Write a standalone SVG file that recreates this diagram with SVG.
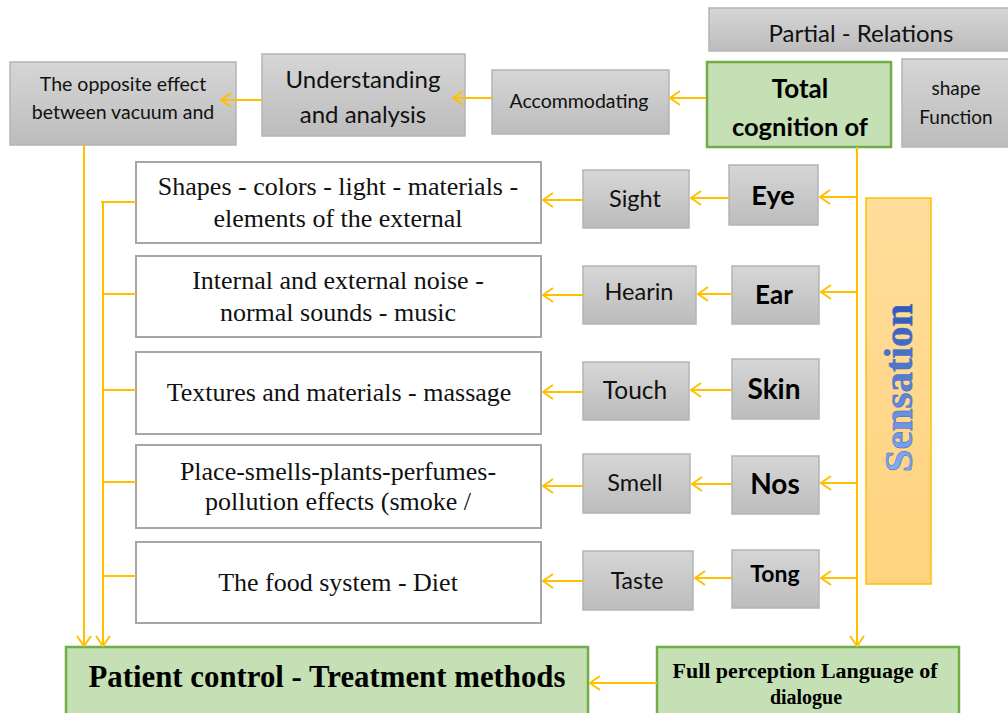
<svg xmlns="http://www.w3.org/2000/svg" width="1008" height="713" viewBox="0 0 1008 713">
<defs>
<linearGradient id="g" x1="0" y1="0" x2="0" y2="1"><stop offset="0" stop-color="#d6d6d6"/><stop offset="1" stop-color="#bcbcbc"/></linearGradient>
<linearGradient id="o" x1="0" y1="0" x2="0" y2="1"><stop offset="0" stop-color="#ffdd9a"/><stop offset="1" stop-color="#ffd37f"/></linearGradient>
<linearGradient id="b" x1="0" y1="0" x2="1" y2="0"><stop offset="0" stop-color="#86adf2"/><stop offset="1" stop-color="#2f58b8"/></linearGradient>
<marker id="a" viewBox="0 0 12 16" refX="11" refY="8" markerWidth="12" markerHeight="16" orient="auto" markerUnits="userSpaceOnUse"><path d="M1,1 L11,8 L1,15" fill="none" stroke="#ffc000" stroke-width="2"/></marker>
</defs>
<style>
.gb{fill:url(#g);stroke:#b4b4b4;stroke-width:1.5}
.wb{fill:#fff;stroke:#a6a6a6;stroke-width:2}
.gr{fill:#c5e0b4;stroke:#70ad47;stroke-width:2.5}
.c{fill:none;stroke:#ffc000;stroke-width:2}
.ca{fill:none;stroke:#ffc000;stroke-width:2;marker-end:url(#a)}
.s{font-family:Lato,"Open Sans",sans-serif;fill:#111;text-anchor:middle}
.sb{font-family:Lato,"Open Sans",sans-serif;fill:#000;text-anchor:middle;font-weight:bold}
.t{font-family:"Liberation Serif",serif;fill:#111;text-anchor:middle;font-size:26px}
.tb{font-family:"Liberation Serif",serif;fill:#000;text-anchor:middle;font-weight:bold}
</style>
<g id="opposite"><rect class="gb" x="10" y="62" width="226" height="83"/><text class="s" font-size="19.5" x="123" y="91">The opposite effect</text><text class="s" font-size="19.5" x="123" y="119">between vacuum and</text></g>
<g id="understanding"><rect class="gb" x="262" y="54" width="203" height="82"/><text class="s" font-size="24" x="363" y="88">Understanding</text><text class="s" font-size="24" x="363" y="123">and analysis</text></g>
<g id="accommodating"><rect class="gb" x="492" y="70" width="177" height="64"/><text class="s" font-size="19.5" x="579" y="108">Accommodating</text></g>
<g id="partial"><rect class="gb" x="709" y="8" width="305" height="43"/><text class="s" font-size="24" x="861" y="42">Partial - Relations</text></g>
<g id="total"><rect class="gr" x="707" y="62" width="184" height="85"/><text class="sb" font-size="26" x="800" y="98">Total</text><text class="sb" font-size="25.5" x="800" y="136">cognition of</text></g>
<g id="shape"><rect class="gb" x="902" y="59" width="112" height="88"/><text class="s" font-size="19" x="956" y="95">shape</text><text class="s" font-size="19" x="956" y="124">Function</text></g>
<g id="box1"><rect class="wb" x="136" y="162" width="405" height="81"/><text class="t" x="338" y="195">Shapes - colors - light - materials -</text><text class="t" x="338" y="227">elements of the external</text></g>
<g id="box2"><rect class="wb" x="136" y="256" width="405" height="81"/><text class="t" x="338" y="289">Internal and external noise -</text><text class="t" x="338" y="321">normal sounds - music</text></g>
<g id="box3"><rect class="wb" x="136" y="352" width="405" height="82"/><text class="t" x="339" y="401">Textures and materials  - massage</text></g>
<g id="box4"><rect class="wb" x="136" y="445" width="405" height="83"/><text class="t" x="338" y="480">Place-smells-plants-perfumes-</text><text class="t" x="338" y="510">pollution effects (smoke /</text></g>
<g id="box5"><rect class="wb" x="136" y="542" width="405" height="81"/><text class="t" x="338" y="591">The food system - Diet</text></g>
<g id="sight"><rect class="gb" x="583" y="170" width="106" height="58"/><text class="s" font-size="23.5" x="635" y="207">Sight</text></g>
<g id="hearing"><rect class="gb" x="583" y="266" width="113" height="58"/><text class="s" font-size="23.5" x="639" y="300">Hearin</text></g>
<g id="touch"><rect class="gb" x="583" y="362" width="106" height="58"/><text class="s" font-size="24.5" x="635" y="399">Touch</text></g>
<g id="smell"><rect class="gb" x="583" y="454" width="107" height="59"/><text class="s" font-size="23.5" x="635" y="491">Smell</text></g>
<g id="taste"><rect class="gb" x="583" y="551" width="110" height="59"/><text class="s" font-size="23" x="637" y="589">Taste</text></g>
<g id="eye"><rect class="gb" x="729" y="165" width="89" height="60"/><text class="sb" font-size="27" x="773" y="205">Eye</text></g>
<g id="ear"><rect class="gb" x="732" y="266" width="87" height="58"/><text class="sb" font-size="26" x="774" y="304">Ear</text></g>
<g id="skin"><rect class="gb" x="732" y="359" width="87" height="60"/><text class="sb" font-size="28" x="774" y="399">Skin</text></g>
<g id="nose"><rect class="gb" x="732" y="456" width="87" height="58"/><text class="sb" font-size="28" x="775" y="494">Nos</text></g>
<g id="tongue"><rect class="gb" x="732" y="550" width="87" height="58"/><text class="sb" font-size="23" x="775" y="582">Tong</text></g>
<g id="sensation"><rect x="866" y="198" width="65" height="386" fill="url(#o)" stroke="#ffc000" stroke-width="1.5"/><text transform="translate(912,388) rotate(-90)" font-family="'Liberation Serif',serif" font-weight="bold" font-size="41" text-anchor="middle" fill="url(#b)" stroke="#3a66c4" stroke-width="0.5">Sensation</text></g>
<g id="patient"><rect class="gr" x="66" y="647" width="522" height="70"/><text class="tb" font-size="31" x="327" y="687" textLength="477" lengthAdjust="spacingAndGlyphs">Patient control - Treatment methods</text></g>
<g id="full"><rect class="gr" x="657" y="647" width="302" height="70"/><text class="tb" font-size="20" x="805" y="678" textLength="265" lengthAdjust="spacingAndGlyphs">Full perception Language of</text><text class="tb" font-size="20" x="806" y="704">dialogue</text></g>
<g id="connectors">
<path class="ca" d="M706,98 L670,98"/>
<path class="ca" d="M492,98 L453,98"/>
<path class="ca" d="M262,100 L221,100"/>
<path class="ca" d="M84,145 L84,646"/>
<path class="ca" d="M103,202 L103,646"/>
<path class="c" d="M101,202 L136,202 M103,294 L136,294 M103,390 L136,390 M103,482 L136,482 M103,576 L136,576"/>
<path class="ca" d="M583,200 L543,200"/>
<path class="ca" d="M583,295 L543,295"/>
<path class="ca" d="M583,392 L543,392"/>
<path class="ca" d="M583,486 L543,486"/>
<path class="ca" d="M583,581 L543,581"/>
<path class="ca" d="M729,198 L691,198"/>
<path class="ca" d="M732,294 L698,294"/>
<path class="ca" d="M732,390 L691,390"/>
<path class="ca" d="M732,484 L692,484"/>
<path class="ca" d="M732,578 L695,578"/>
<path class="ca" d="M857,147 L857,646"/>
<path class="ca" d="M857,197 L820,197"/>
<path class="ca" d="M857,292 L821,292"/>
<path class="ca" d="M857,483 L821,483"/>
<path class="ca" d="M857,578 L821,578"/>
<path class="ca" d="M657,683 L590,683"/>
</g>
</svg>
